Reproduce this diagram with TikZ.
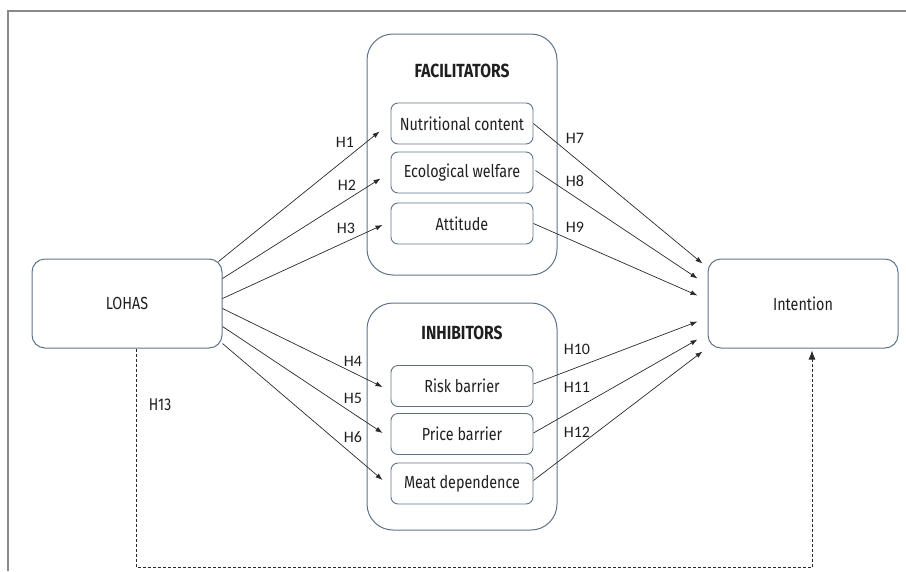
\documentclass[tikz,border=0pt]{standalone}
\usepackage{fontspec}
\setmainfont{Fira Sans}[FakeStretch=0.82]
\newfontfamily\hfont{Carlito}
\usetikzlibrary{arrows.meta,calc}
\definecolor{boxc}{HTML}{5E738A}
\definecolor{linec}{HTML}{2A2A2A}
\definecolor{framec}{HTML}{8A8A8A}
\begin{document}
\begin{tikzpicture}[x=1pt,y=-1pt,
  group/.style={draw=boxc,line width=1pt,rounded corners=26pt,minimum width=190pt},
  item/.style={draw=boxc,line width=0.9pt,rounded corners=7pt,minimum width=142pt,minimum height=41pt,font=\fontsize{17.5}{20}\selectfont,text=black!88},
  big/.style={draw=boxc,line width=1pt,rounded corners=13pt,minimum width=190pt,minimum height=89pt,font=\fontsize{17.5}{20}\selectfont,text=black!88},
  gtitle/.style={font=\bfseries\fontsize{19}{22}\selectfont,text=black!88},
  conn/.style={draw=linec,line width=0.7pt,-{Latex[length=7pt,width=5pt]}},
  dashconn/.style={draw=linec,line width=0.8pt,dash pattern=on 3pt off 2pt,-{Latex[length=9pt,width=7pt]}},
  hl/.style={font=\hfont\fontsize{16}{19}\selectfont,text=black!88,inner sep=0pt},
  hm/.style={font=\fontsize{17}{20}\selectfont,text=black!88,inner sep=0pt},
]
\useasboundingbox (0,0) rectangle (906,571);
\draw[framec,line width=1.3pt] (906,11) -- (8,11) -- (8,571);

% groups
\node[group,minimum height=241pt] (fac) at (462,154.5) {};
\node[gtitle] (factitle) at (462,71) {FACILITATORS};
\node[item] (nut) at (462,123.5) {Nutritional content};
\node[item] (eco) at (462,172.5) {Ecological welfare};
\node[item] (att) at (462,223.5) {Attitude};

\node[group,minimum height=227pt] (inh) at (462,416.5) {};
\node[gtitle] (inhtitle) at (462,333) {INHIBITORS};
\node[item] (risk) at (462,386) {Risk barrier};
\node[item] (price) at (462,434) {Price barrier};
\node[item] (meat) at (462,483.5) {Meat dependence};

\node[big] (lohas) at (127,303.5) {LOHAS};
\node[big] (int) at (803,303.5) {Intention};

% connectors from LOHAS
\draw[conn] ($(lohas.north east)+(-4,3)$) -- ($(nut.west)+(-11,8)$);
\draw[conn] ($(lohas.east)+(0,-25)$) -- ($(eco.west)+(-10,6)$);
\draw[conn] ($(lohas.east)+(0,-5)$) -- ($(att.west)+(-8,1.5)$);
\draw[conn] ($(lohas.east)+(0,5)$) -- ($(risk.west)+(-8,1)$);
\draw[conn] ($(lohas.east)+(0,23)$) -- ($(price.west)+(-8,-1)$);
\draw[conn] ($(lohas.east)+(0,40)$) -- ($(meat.west)+(-8,-3.5)$);

% connectors to Intention
\draw[conn] (nut.east) -- ($(int.west)+(-5,-40)$);
\draw[conn] ($(eco.east)+(2,-2)$) -- ($(int.west)+(-10,-25)$);
\draw[conn] (att.east) -- ($(int.west)+(-10,-8)$);
\draw[conn] ($(risk.east)+(0,-2)$) -- ($(int.west)+(-10,18)$);
\draw[conn] ($(price.east)+(0,-1)$) -- ($(int.west)+(-10,36)$);
\draw[conn] ($(meat.east)+(0,-3)$) -- ($(int.west)+(-5,48)$);

% dashed H13
\coordinate (dcorner) at (812,567);
\draw[dashconn] ($(lohas.south)+(9,0)$) |- (dcorner) -- ($(int.south)+(9,2)$);

% labels
\node[hl] (h1) at (345,142) {H1};
\node[hl] (h2) at (347,185) {H2};
\node[hl] (h3) at (346,228) {H3};
\node[hl] (h4) at (353,361) {H4};
\node[hl] (h5) at (353,398) {H5};
\node[hl] (h6) at (353,437) {H6};
\node[hl] (h7) at (575,138) {H7};
\node[hl] (h8) at (575,181) {H8};
\node[hl] (h9) at (575,227) {H9};
\node[hl] (h10) at (577,349) {H10};
\node[hl] (h11) at (577,387) {H11};
\node[hl] (h12) at (577,432) {H12};
\node[hm] (h13) at (160,405) {H13};
\end{tikzpicture}
\end{document}
